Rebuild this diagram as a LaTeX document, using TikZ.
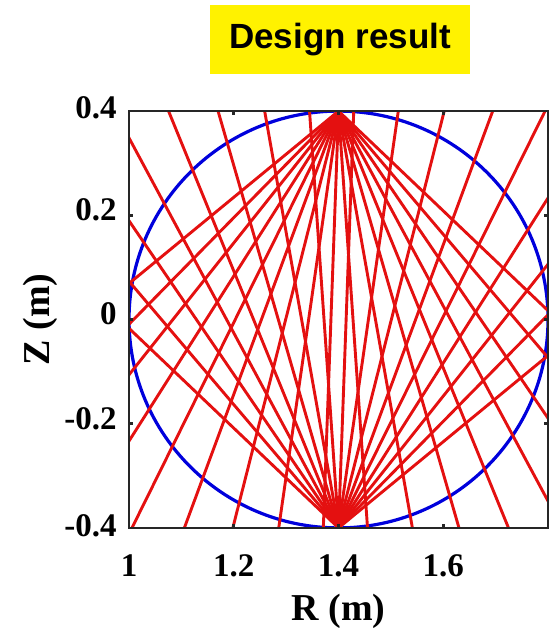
\documentclass[tikz,border=0pt]{standalone}
\usepackage{fontspec}
\setmainfont{Liberation Serif}
\newfontfamily\titlefont{Liberation Sans}
\usetikzlibrary{positioning}
\definecolor{rayred}{RGB}{228,16,16}
\definecolor{ringblue}{RGB}{0,0,220}

\begin{document}
\begin{tikzpicture}[
	x=261.875pt, y=260.5pt,
	redray/.style={draw=rayred, line width=1.45pt},
	bluering/.style={draw=ringblue, line width=1.6pt},
	framebox/.style={draw=black!85, line width=1.3pt},
	ticklabel/.style={font=\fontsize{16.5}{18}\selectfont\bfseries, inner sep=0pt},
	axislabel/.style={font=\fontsize{19}{22}\selectfont\bfseries, inner sep=0pt},
	titlebox/.style={rectangle, fill=yellow, minimum width=130pt, minimum height=34.5pt, font=\titlefont\fontsize{17.5}{20}\selectfont\bfseries}
	]
	\useasboundingbox (0.7537,-0.5921) rectangle (1.8115,0.6132);
	\coordinate (top) at (1.4,0.4);
	\coordinate (bottom) at (1.4,-0.4);
	\coordinate (sw) at (1,-0.4);
	\coordinate (ne) at (1.8,0.4);
	
	% circle and the two fans of rays
	\begin{scope}
		\clip (sw) rectangle (ne);
		\draw[bluering] (1.4,0) circle[radius=0.4];
		\foreach \k in {0,...,16}{
			\draw[redray] (top) -- ++({-140.4+6.04*\k}:1.2);
			\draw[redray] (bottom) -- ++({39.6+6.04*\k}:1.2);
		}
	\end{scope}
	
	% frame and ticks
	\draw[framebox] (sw) rectangle (ne);
	\foreach \r in {1.2,1.4,1.6}{
		\draw[framebox] (\r,-0.4) -- ++(0,0.008);
		\draw[framebox] (\r,0.4) -- ++(0,-0.008);
	}
	\foreach \z in {-0.2,0,0.2}{
		\draw[framebox] (1,\z) -- ++(0.008,0);
		\draw[framebox] (1.8,\z) -- ++(-0.008,0);
	}
	
	% tick labels
	\foreach \r [count=\i] in {1,1.2,1.4,1.6}
		\node[ticklabel, anchor=base] (xl\i) at (\r,-0.493) {\r};
	\foreach \z/\zpos in {-0.4/-0.408,-0.2/-0.202,0/-0.001,0.2/0.199,0.4/0.395}
		\node[ticklabel, anchor=mid east] at (0.977,\zpos) {\z};
	
	\node[axislabel, below=8pt of xl3] (rlabel) {R (m)};
	\node[axislabel, rotate=90, anchor=base] (zlabel) at (0.8473,0) {Z (m)};
	
	\node[titlebox] (title) at (1.4029,0.5374) {Design result};
\end{tikzpicture}
\end{document}
